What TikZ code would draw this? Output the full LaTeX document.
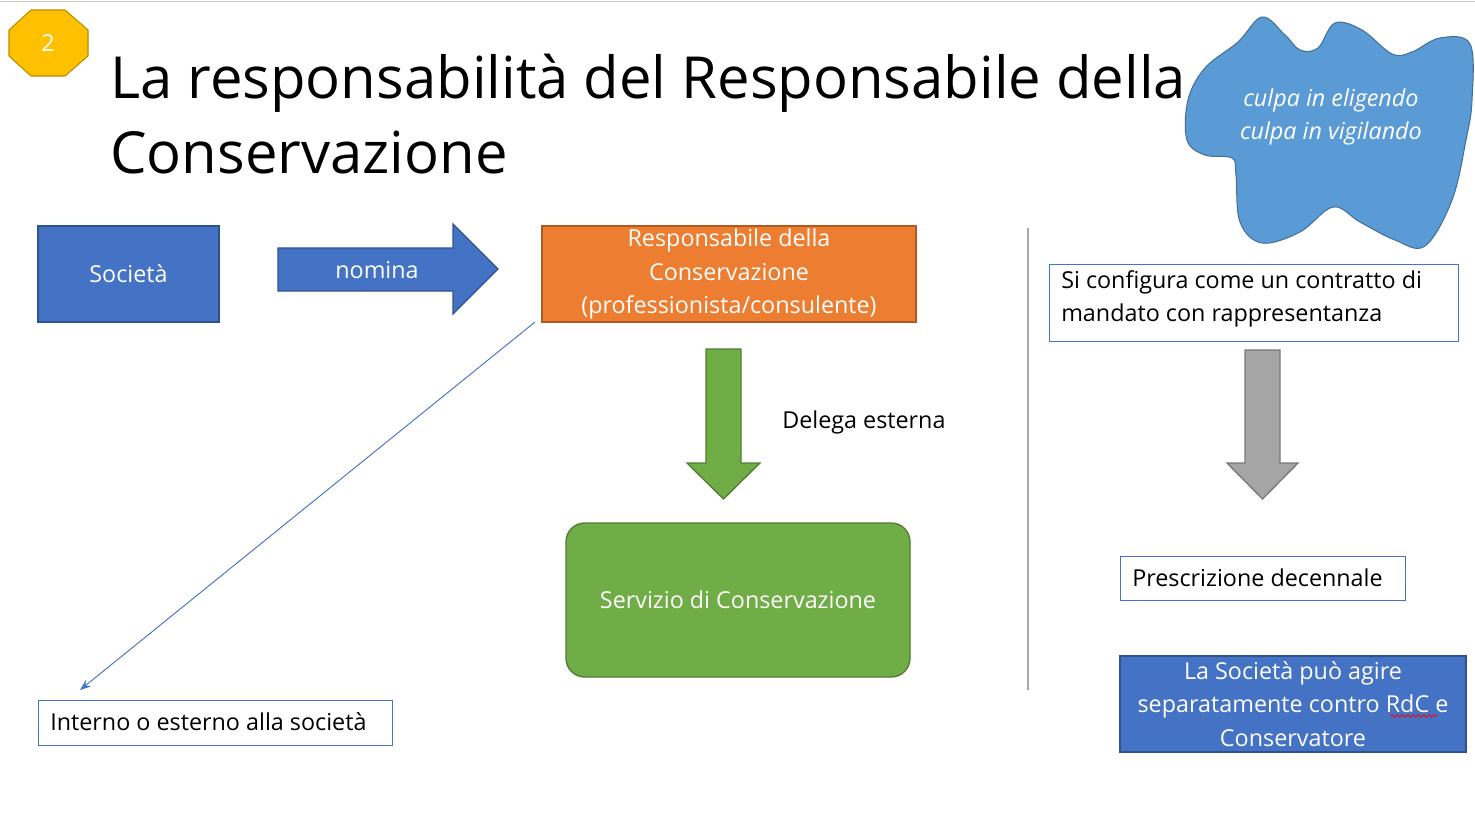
\documentclass[tikz,border=0pt]{standalone}
\usepackage{fontspec}
\setmainfont{Open Sans}
\usetikzlibrary{shapes.geometric,arrows.meta,decorations.pathmorphing}
\definecolor{blu}{HTML}{4472C4}\definecolor{blud}{HTML}{2F528F}
\definecolor{ora}{HTML}{ED7D31}\definecolor{orad}{HTML}{AE5A21}
\definecolor{gre}{HTML}{70AD47}\definecolor{gred}{HTML}{507E32}
\definecolor{gry}{HTML}{A5A5A5}\definecolor{gryd}{HTML}{787878}
\definecolor{sky}{HTML}{5B9BD5}\definecolor{skyd}{HTML}{41719C}
\definecolor{gold}{HTML}{FFC000}\definecolor{goldd}{HTML}{BC8C00}
\begin{document}
\begin{tikzpicture}[x=0.75pt,y=-0.75pt,
  txt/.style={font=\fontsize{17.5}{25}\selectfont},
  wbox/.style={draw=blu,fill=white,line width=0.6pt,inner sep=0}]
\useasboundingbox (0,0) rectangle (1475,822);
\draw[gray!40] (0,1)--(1475,1);
% octagon
\draw[draw=goldd,fill=gold,line width=0.8pt] (31,10)--(65,10)--(88,30)--(88,56)--(65,76)--(31,76)--(9,56)--(9,30)--cycle;
\node[text=white,txt] (n2) at (48,43) {2};
% title
\node[anchor=north west,align=left,inner sep=0,font=\fontsize{43.5}{56}\selectfont] (title) at (110,54) {La responsabilità del Responsabile della\\Conservazione};
% cloud
\filldraw[draw=skyd,fill=sky,line width=0.8pt] plot[smooth cycle,tension=0.6] coordinates{
 (1262,17)(1285,35)(1300,50)(1318,48)(1335,23)(1362,30)(1392,54)(1412,52)(1440,38)(1470,44)(1472,100)(1466,140)(1452,200)(1425,246)(1395,240)(1360,222)(1333,207)(1300,232)(1262,243)(1240,222)(1236,175)(1232,158)(1205,155)(1187,140)(1188,100)(1205,68)(1238,42)};
\node[text=white,align=center,font=\fontsize{17.5}{25}\selectfont\itshape] (cl) at (1331,117) {culpa in eligendo\\culpa in vigilando};
% boxes
\draw[draw=blud,fill=blu,line width=1pt] (38,226) rectangle (219,322);
\node[text=white,txt] (soc) at (128.5,274) {Società};
\filldraw[draw=blud,fill=blu,line width=1pt] (278,248)--(453,248)--(453,224)--(498,269)--(453,314)--(453,291)--(278,291)--cycle;
\node[text=white,txt] (nom) at (377,270) {nomina};
\draw[draw=orad,fill=ora,line width=1pt] (542,226) rectangle (916,322);
\node[text=white,txt,align=center,inner sep=0] (rdc) at (729,274) {Responsabile della\\Conservazione\\(professionista/consulente)};
\filldraw[draw=gred,fill=gre,line width=1pt] (706,349)--(741,349)--(741,463)--(760,463)--(723.5,499)--(687,463)--(706,463)--cycle;
\node[anchor=west,txt,inner sep=0] (del) at (782,422) {Delega esterna};
\draw[draw=gred,fill=gre,line width=1pt,rounded corners=14] (566,523) rectangle (910,677);
\node[text=white,txt] (srv) at (738,600) {Servizio di Conservazione};
\draw[wbox] (38,700) rectangle (392,745);
\node[anchor=west,txt,inner sep=0] (int) at (50,722) {Interno o esterno alla società};
\coordinate (s) at (535,322);
\draw[blu,line width=0.7pt,-{Stealth[length=8,width=6]}] (s)--(80,690);
\draw[gray!70,line width=0.8pt] (1028,228)--(1028,690);
% right
\draw[wbox] (1049,264) rectangle (1458,341);
\node[anchor=north west,align=left,txt,inner sep=0] (cfg) at (1061,270) {Si configura come un contratto di\\mandato con rappresentanza};
\filldraw[draw=gryd,fill=gry,line width=1pt] (1245,350)--(1280,350)--(1280,463)--(1298,463)--(1262.5,499)--(1227,463)--(1245,463)--cycle;
\draw[wbox] (1120,556) rectangle (1405,600);
\node[anchor=west,txt,inner sep=0] (pre) at (1132,578) {Prescrizione decennale};
\draw[draw=blud,fill=blu,line width=1pt] (1120,656) rectangle (1466,752);
\node[text=white,txt,align=center,inner sep=0] (lso) at (1293,704) {La Società può agire\\separatamente contro RdC e\\Conservatore};
\draw[red,line width=0.6pt,decorate,decoration={snake,amplitude=1,segment length=4}] (1390,716)--(1438,716);
\end{tikzpicture}
\end{document}
